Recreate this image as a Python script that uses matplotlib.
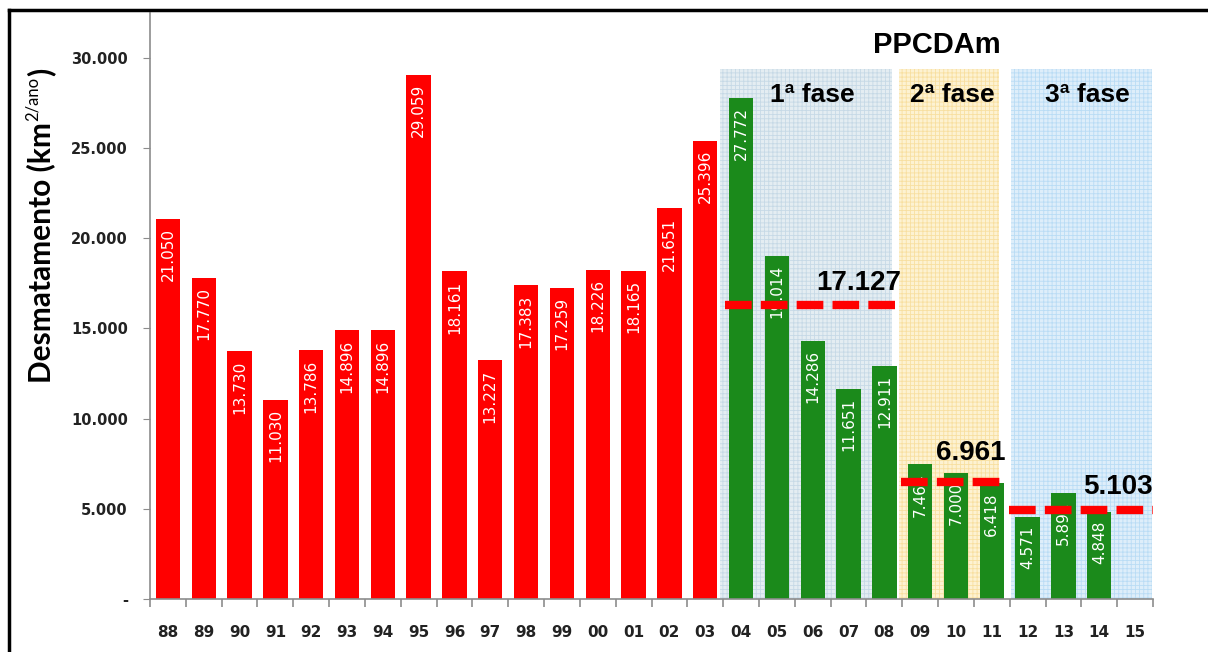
import matplotlib
matplotlib.use('Agg')
import matplotlib.pyplot as plt
import numpy as np
from matplotlib.lines import Line2D

# ---------------- data ----------------
years = ['88', '89', '90', '91', '92', '93', '94', '95', '96', '97', '98', '99',
         '00', '01', '02', '03', '04', '05', '06', '07', '08', '09', '10', '11',
         '12', '13', '14', '15']
deforestation = [21050, 17770, 13730, 11030, 13786, 14896, 14896, 29059, 18161,
                 13227, 17383, 17259, 18226, 18165, 21651, 25396,
                 27772, 19014, 14286, 11651, 12911, 7464, 7000, 6418,
                 4571, 5891, 4848, np.nan]
value_labels = ['21.050', '17.770', '13.730', '11.030', '13.786', '14.896', '14.896',
                '29.059', '18.161', '13.227', '17.383', '17.259', '18.226', '18.165',
                '21.651', '25.396', '27.772', '19.014', '14.286', '11.651', '12.911',
                '7.464', '7.000', '6.418', '4.571', '5.891', '4.848', '']
ppcdam_first_year = '04'
phase_names = ['1ª fase', '2ª fase', '3ª fase']
phase_avg_labels = ['17.127', '6.961', '5.103']
phase_avg_levels = [16300, 6490, 4930]   # dashed lines as drawn in the picture
yticks = [0, 5000, 10000, 15000, 20000, 25000, 30000]
ytick_labels = ['-', '5.000', '10.000', '15.000', '20.000', '25.000', '30.000']

RED = '#ff0000'
GREEN = '#1b8a1b'

W, H = 1208, 652
fig = plt.figure(figsize=(W / 100, H / 100), dpi=100)
ax = fig.add_axes([150 / W, 53 / H, 1003 / W, 586.3 / H])

x = np.arange(len(years))
start = years.index(ppcdam_first_year)
colors = [RED if i < start else GREEN for i in range(len(years))]

# phase background panels
phase_spans = [(15.42, 20.22), (20.42, 23.19), (23.53, 27.47)]
phase_face = ['#e4edf2', '#fdf2d2', '#deeefa']
phase_hatch = ['#c6d9e6', '#f8dfa0', '#b9dcf5']
plt.rcParams['hatch.linewidth'] = 0.6
for (a, b), fc, hc in zip(phase_spans, phase_face, phase_hatch):
    ax.fill_between([a, b], 0, 29400, facecolor=fc, edgecolor=hc, hatch='++++',
                    linewidth=0, zorder=0)

bars = ax.bar(x, deforestation, width=0.68, color=colors, zorder=2)

for xi, v, lab in zip(x, deforestation, value_labels):
    if np.isnan(v) or not lab:
        continue
    ax.text(xi, v - 500, lab, rotation=90, ha='center', va='top', color='white',
            fontsize=11, family='DejaVu Sans', zorder=4)

# dashed average lines
line_spans = [(15.55, 20.35), (20.47, 23.37), (23.48, 27.5)]
for (a, b), lvl in zip(line_spans, phase_avg_levels):
    ax.plot([a, b], [lvl, lvl], color='#ff0000', lw=6, dashes=(3.2, 1.1),
            solid_capstyle='butt', dash_capstyle='butt', zorder=5)

avg_pos = [(19.29, 17516), (22.42, 8093), (26.52, 6208)]
for (px, py), lab in zip(avg_pos, phase_avg_labels):
    ax.text(px, py, lab, ha='center', va='center', fontsize=20, fontweight='bold',
            family='Liberation Sans', color='black', zorder=6)

phase_pos = [17.98, 21.89, 25.66]
for px, name in zip(phase_pos, phase_names):
    ax.text(px, 27937, name, ha='center', va='center', fontsize=19,
            fontweight='bold', family='Liberation Sans', color='black', zorder=6)

ax.text(21.47, 30709, 'PPCDAm', ha='center', va='center', fontsize=21,
        fontweight='bold', family='Liberation Sans', color='black', zorder=6)

# axes styling
ax.set_xlim(-0.5, len(years) - 0.5)
ax.set_ylim(0, 32500)
for s in ['top', 'right']:
    ax.spines[s].set_visible(False)
for s in ['left', 'bottom']:
    ax.spines[s].set_color('#8c8c8c')
    ax.spines[s].set_linewidth(1.2)

ax.set_yticks(yticks)
ax.set_yticklabels(ytick_labels, fontsize=10.5, fontweight='bold',
                   family='DejaVu Sans', color='#222222')
ax.tick_params(axis='y', direction='out', length=5, color='#8c8c8c', pad=11)

ax.set_xticks(x)
ax.set_xticklabels(years, fontsize=11, fontweight='bold', family='DejaVu Sans',
                   color='#222222')
ax.tick_params(axis='x', which='major', length=0, pad=19)
ax.set_xticks(np.arange(-0.5, len(years), 1.0), minor=True)
ax.tick_params(axis='x', which='minor', direction='out', length=6, color='#8c8c8c',
               width=1.2)

# y label with a small superscript, built from pieces
renderer = fig.canvas.get_renderer()
xb, yb = 50 / W, (H - 383) / H
t1 = fig.text(xb, yb, 'Desmatamento (km', rotation=90, rotation_mode='anchor',
              ha='left', va='baseline', fontsize=21.5, fontweight='bold', family='Lato')
h1 = t1.get_window_extent(renderer).height / H
t2 = fig.text(xb - 12 / W, yb + h1 + 1 / H, '2/ano', rotation=90, rotation_mode='anchor',
              ha='left', va='baseline', fontsize=12, family='Lato')
h2 = t2.get_window_extent(renderer).height / H
fig.text(xb, yb + h1 + h2 + 2 / H, ')', rotation=90, rotation_mode='anchor',
         ha='left', va='baseline', fontsize=21.5, fontweight='bold', family='Lato')

# figure frame (left & top)
fig.add_artist(Line2D([9 / W, 9 / W], [0, 1 - 10 / H], transform=fig.transFigure,
                      color='black', lw=2.5))
fig.add_artist(Line2D([9 / W, 1], [1 - 10 / H, 1 - 10 / H], transform=fig.transFigure,
                      color='black', lw=2.5))

fig.savefig('out.png', dpi=100)
